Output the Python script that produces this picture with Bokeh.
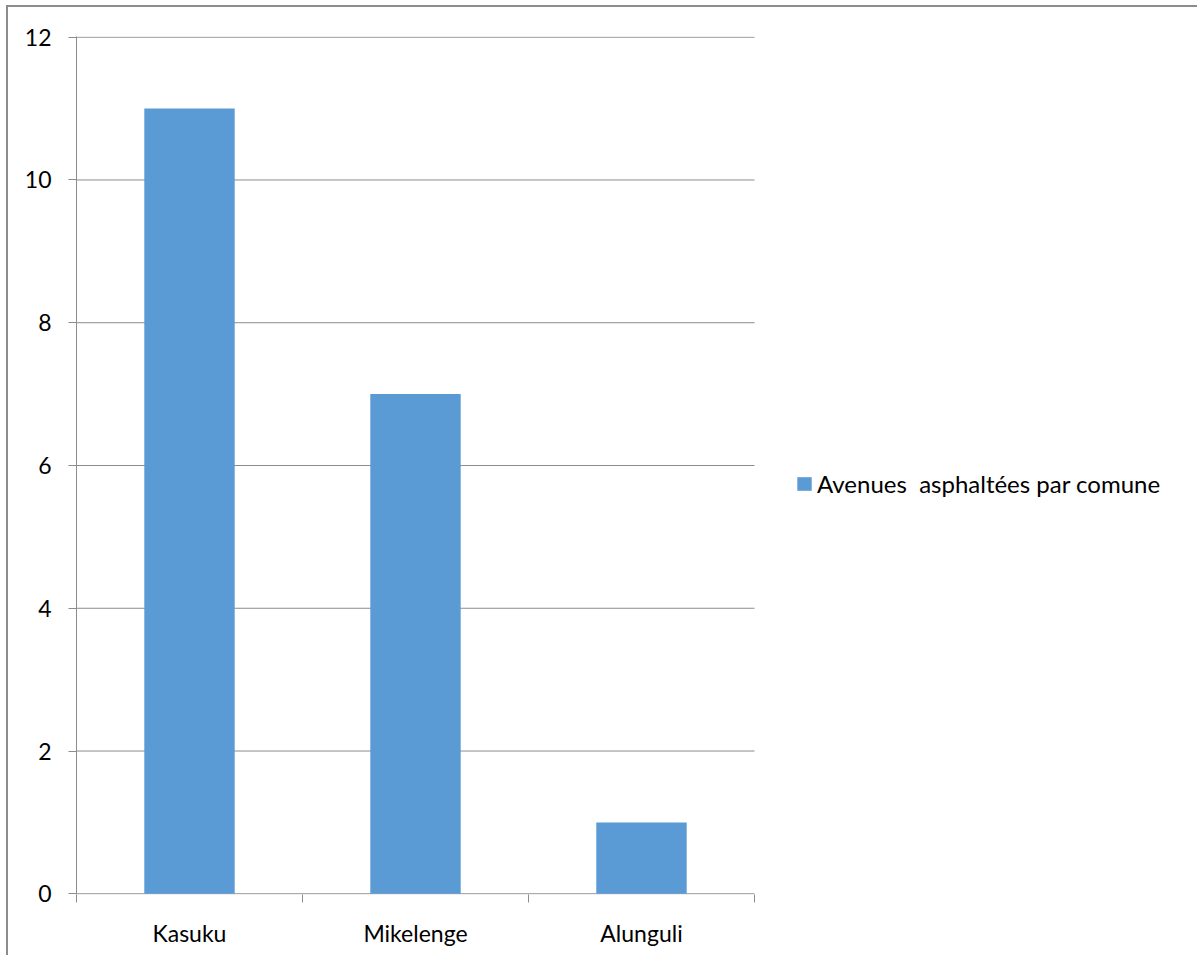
from bokeh.plotting import figure
from bokeh.models import ColumnDataSource, FixedTicker, Legend, LegendItem
from bokeh.embed import file_html
from bokeh.resources import INLINE

categories = ["Kasuku", "Mikelenge", "Alunguli"]
values = [11, 7, 1]
series_name = "Avenues  asphaltées par comune"
y_ticks = [0, 2, 4, 6, 8, 10, 12]

FONT = "Lato"
FS = "23px"
GREY = "#8c8c8c"
BAR = "#5b9bd5"

n = len(categories)
x_pos = [i + 0.5 for i in range(n)]
src = ColumnDataSource(dict(x=x_pos, top=values, cat=categories))
grid_src = ColumnDataSource(dict(y=y_ticks, x0=[0] * len(y_ticks), x1=[n] * len(y_ticks)))

W, H = 1191, 950
LEFT, TOP, BOTTOM = 68, 29, H - 887
plot_px = 678                      # width of the category area in px
frame_w = W - LEFT
x_end = n * frame_w / plot_px

p = figure(width=W, height=H, output_backend="svg", toolbar_location=None,
           x_range=(0, x_end), y_range=(-0.01, 12.01),
           min_border_left=LEFT, min_border_right=0,
           min_border_top=TOP, min_border_bottom=BOTTOM)
p.styles = {"border-top": f"2px solid {GREY}", "border-left": f"2px solid {GREY}",
            "margin-left": "6px", "margin-top": "5px"}

p.segment(x0="x0", x1="x1", y0="y", y1="y", source=grid_src,
          line_color=GREY, line_width=1)
r = p.vbar(x="x", top="top", bottom=0, width=0.4, source=src,
           fill_color=BAR, line_color=None)

p.outline_line_color = None
p.background_fill_color = "white"
p.border_fill_color = "white"
p.xgrid.visible = False
p.ygrid.visible = False

# y axis
p.yaxis.ticker = FixedTicker(ticks=y_ticks)
p.yaxis.axis_line_color = GREY
p.yaxis.major_tick_line_color = GREY
p.yaxis.major_tick_out = 8
p.yaxis.major_tick_in = 0
p.yaxis.minor_tick_line_color = None
p.yaxis.major_label_text_font = FONT
p.yaxis.major_label_text_font_size = FS
p.yaxis.major_label_text_color = "black"
p.yaxis.major_label_standoff = 17

# x axis: labels at centers, ticks at boundaries (minor)
p.xaxis.ticker = FixedTicker(ticks=x_pos, minor_ticks=list(range(n + 1)))
p.xaxis.major_label_overrides = {x: c for x, c in zip(x_pos, categories)}
p.xaxis.axis_line_color = None
p.xaxis.major_tick_line_color = None
p.xaxis.major_tick_out = 0
p.xaxis.major_tick_in = 0
p.xaxis.minor_tick_line_color = GREY
p.xaxis.minor_tick_out = 8
p.xaxis.minor_tick_in = 0
p.xaxis.major_label_text_font = FONT
p.xaxis.major_label_text_font_size = FS
p.xaxis.major_label_text_color = "black"
p.xaxis.major_label_standoff = 16

legend = Legend(items=[LegendItem(label=series_name, renderers=[r])],
                location=(719, 396), padding=0, margin=0, spacing=0,
                glyph_width=18, glyph_height=17, label_standoff=4,
                border_line_color=None, background_fill_alpha=0,
                label_text_font=FONT, label_text_font_size="24px",
                label_text_color="black")
p.add_layout(legend)

open("out.html", "w").write(file_html(p, INLINE))
